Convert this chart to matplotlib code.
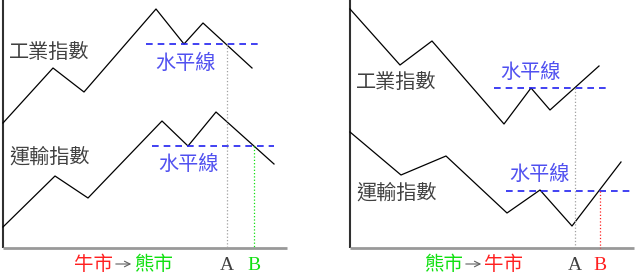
import matplotlib
matplotlib.use("Agg")
import matplotlib.pyplot as plt

plt.rcParams['font.family'] = ['Noto Sans CJK TC', 'DejaVu Sans']

# pixel coordinates (x right, y down)
# left panel: bull -> bear
l_ind_x = [3, 53, 84, 156, 184, 203, 252]
l_ind_y = [123, 68, 92, 9, 44, 23, 68]
l_trn_x = [3, 55, 88, 162, 188, 216, 274]
l_trn_y = [227, 176, 198, 121, 146, 112, 164]
l_ind_level = 44
l_trn_level = 146
l_ind_span = [146, 261]
l_trn_span = [152, 274]
l_A = 227
l_B = 254

# right panel: bear -> bull
r_ind_x = [350, 400, 432, 504, 531, 550, 599]
r_ind_y = [9, 65, 41, 124, 88, 110, 66]
r_trn_x = [350, 401, 446, 507, 540, 572, 621]
r_trn_y = [132, 175, 156, 213, 190, 226, 162]
r_ind_level = 88
r_trn_level = 191
r_ind_span = [494, 609]
r_trn_span = [506, 630]
r_A = 575
r_B = 600

ind_label = '工業指數'
trn_label = '運輸指數'
level_label = '水平線'
bull = '牛市'
bear = '熊市'

RED = '#ff2020'
GREEN = '#10e010'
BLUE = '#2020f0'
TXTBLUE = '#5050f0'
GRAY = '#404040'

fig = plt.figure(figsize=(6.38, 2.80), dpi=100)
ax = fig.add_axes([0, 0, 1, 1])
ax.set_xlim(0, 638)
ax.set_ylim(280, 0)
ax.axis('off')


def panel(x0, x1, ind_x, ind_y, trn_x, trn_y, ind_lv, trn_lv, ind_sp, trn_sp,
          xa, xb, bcol):
    # axes frame
    ax.plot([x0, x0], [0, 248], color='#303030', lw=1.5, solid_capstyle='butt')
    ax.plot([x0, x1], [248, 248], color='#999999', lw=2, solid_capstyle='butt')
    ax.plot(ind_x, ind_y, color='black', lw=0.9)
    ax.plot(trn_x, trn_y, color='black', lw=0.9)
    ax.plot(ind_sp, [ind_lv, ind_lv], color=BLUE, lw=1.2, dashes=(4, 3))
    ax.plot(trn_sp, [trn_lv, trn_lv], color=BLUE, lw=1.2, dashes=(4, 3))
    ax.plot([xa, xa], [ind_lv, 248], color='#a0a0a0', lw=0.9, ls=':')
    ax.plot([xb, xb], [trn_lv, 248], color=bcol, lw=0.9, ls=':')
    ax.text(xa, 265, 'A', family='Liberation Serif', fontsize=14,
            color=GRAY, ha='center', va='center')
    ax.text(xb, 265, 'B', family='Liberation Serif', fontsize=14,
            color=bcol, ha='center', va='center')


panel(3, 287, l_ind_x, l_ind_y, l_trn_x, l_trn_y, l_ind_level, l_trn_level,
      l_ind_span, l_trn_span, l_A, l_B, GREEN)
panel(350, 634, r_ind_x, r_ind_y, r_trn_x, r_trn_y, r_ind_level, r_trn_level,
      r_ind_span, r_trn_span, r_A, r_B, RED)

fs = 14.5
ax.text(9, 53, ind_label, fontsize=fs, color=GRAY, va='center')
ax.text(9, 157, trn_label, fontsize=fs, color=GRAY, va='center')
ax.text(155, 63, level_label, fontsize=fs, color=TXTBLUE, va='center')
ax.text(158, 164, level_label, fontsize=fs, color=TXTBLUE, va='center')

ax.text(356, 83, ind_label, fontsize=fs, color=GRAY, va='center')
ax.text(356, 193, trn_label, fontsize=fs, color=GRAY, va='center')
ax.text(500, 72, level_label, fontsize=fs, color=TXTBLUE, va='center')
ax.text(509, 174, level_label, fontsize=fs, color=TXTBLUE, va='center')

# bottom captions
cfs = 14
ax.text(113, 264, bull, fontsize=cfs, color=RED, ha='right', va='center')
ax.annotate('', xy=(134, 264), xytext=(113, 264),
            arrowprops=dict(arrowstyle='->', color='#606060', lw=0.8))
ax.text(134, 264, bear, fontsize=cfs, color=GREEN, ha='left', va='center')

ax.text(463, 264, bear, fontsize=cfs, color=GREEN, ha='right', va='center')
ax.annotate('', xy=(484, 264), xytext=(463, 264),
            arrowprops=dict(arrowstyle='->', color='#606060', lw=0.8))
ax.text(484, 264, bull, fontsize=cfs, color=RED, ha='left', va='center')

fig.savefig('out.png', dpi=100, facecolor='white')
